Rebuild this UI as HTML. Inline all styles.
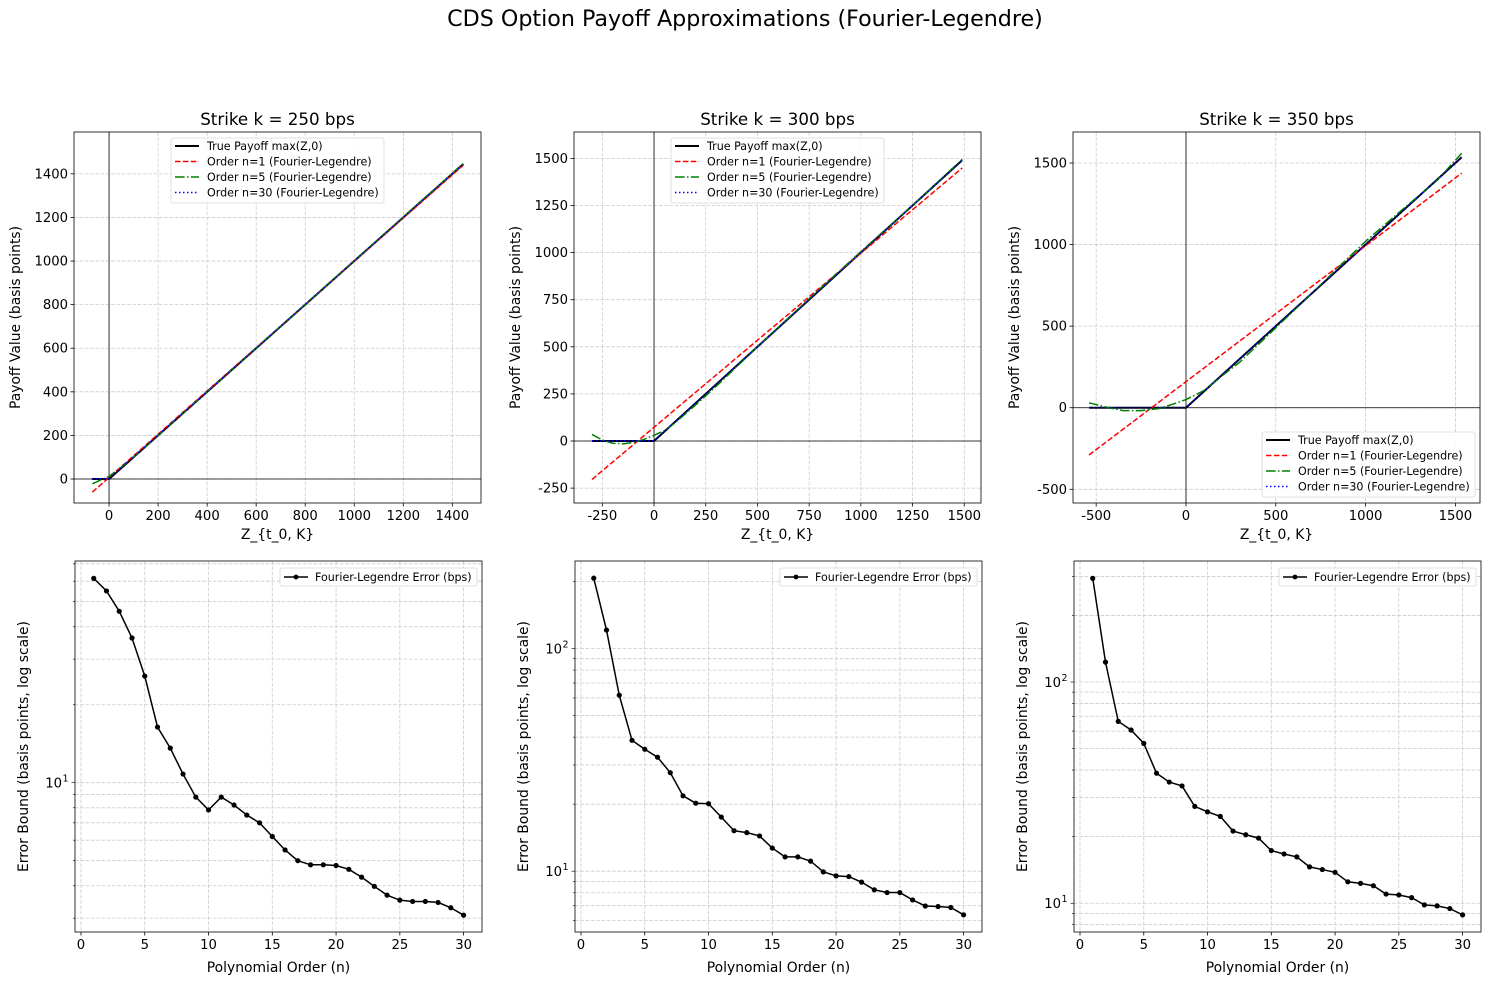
<!DOCTYPE html>
<html><head><meta charset="utf-8"><style>
body{margin:0;background:#fff;}
svg text{font-family:"DejaVu Sans","Liberation Sans",sans-serif;}
</style></head><body>
<svg id="fig" width="1490" height="985" xmlns="http://www.w3.org/2000/svg">
<text x="745" y="26" font-size="22.2" text-anchor="middle">CDS Option Payoff Approximations (Fourier-Legendre)</text>
</svg>
<script>
// ---------- data ----------
const strikes = ["Strike k = 250 bps","Strike k = 300 bps","Strike k = 350 bps"];
// payoff panels: [z, value] samples
const trueP1 = [[-70,0],[0,0],[1445,1445]];
const redP1 = [[-68,-60],[1445,1440]];
const greenP1 = [[-68,-22],[-35,-5],[0,12],[50,55],[100,100],[1445,1448]];
const blueP1 = [[-70,0],[0,2],[1445,1445]];
const trueP2 = [[-300,0],[0,0],[1490,1490]];
const redP2 = [[-300,-204],[1490,1449]];
const greenP2 = [[-300,35],[-250,5],[-200,-12],[-150,-15],[-100,-8],[-50,8],[0,30],[50,55],[100,95],[200,190],[300,290],[500,500],[750,755],[1000,1005],[1250,1250],[1490,1495]];
const blueP2 = [[-300,0],[0,1],[1490,1490]];
const trueP3 = [[-540,0],[0,0],[1535,1535]];
const redP3 = [[-540,-290],[1535,1438]];
const greenP3 = [[-540,30],[-450,5],[-350,-18],[-250,-18],[-150,-5],[-50,30],[0,50],[100,105],[200,195],[300,280],[400,385],[500,490],[700,700],[900,915],[1000,1020],[1200,1210],[1400,1395],[1535,1560]];
const blueP3 = [[-540,0],[0,1],[1535,1535]];
// error panels
const orders = [1,2,3,4,5,6,7,8,9,10,11,12,13,14,15,16,17,18,19,20,21,22,23,24,25,26,27,28,29,30];
const err250 = [61.5,55,45.9,36.2,25.8,16.4,13.6,10.8,8.8,7.85,8.8,8.2,7.5,7.0,6.2,5.5,5.0,4.82,4.82,4.79,4.63,4.32,3.98,3.68,3.52,3.48,3.48,3.45,3.29,3.08];
const err300 = [207,121,61.7,38.7,35.3,32.5,27.7,21.8,20.2,20.1,17.5,15.2,14.9,14.4,12.7,11.6,11.6,11.1,9.93,9.53,9.46,8.93,8.25,8.02,8.02,7.43,6.98,6.94,6.87,6.37];
const err350 = [294,123,66.4,60.7,52.8,38.7,35.3,33.9,27.4,25.9,24.7,21.2,20.4,19.7,17.3,16.7,16.2,14.6,14.2,13.8,12.5,12.3,12.0,11.0,10.9,10.6,9.83,9.73,9.46,8.86];
const xTicks1=[0,200,400,600,800,1000,1200,1400], yTicks1=[0,200,400,600,800,1000,1200,1400];
const xTicks2=[-250,0,250,500,750,1000,1250,1500], yTicks2=[-250,0,250,500,750,1000,1250,1500];
const xTicks3=[-500,0,500,1000,1500], yTicks3=[-500,0,500,1000,1500];
const nTicks=[0,5,10,15,20,25,30];

// ---------- helpers ----------
const svg=document.getElementById('fig');
const NS='http://www.w3.org/2000/svg';
function el(tag,attrs,parent){const e=document.createElementNS(NS,tag);for(const k in attrs)e.setAttribute(k,attrs[k]);(parent||svg).appendChild(e);return e;}
function txt(s,attrs,parent){const e=el('text',attrs,parent);e.textContent=s;return e;}

const lefts=[74,574,1073], W=407;
const topRow={t:132,b:503}, botRow={t:561,b:932};
const payoff=[
 {xr:[-143,1517],yr:[-110,1592],xt:xTicks1,yt:yTicks1,tr:trueP1,rd:redP1,gr:greenP1,bl:blueP1,leg:[171,138]},
 {xr:[-387,1581],yr:[-329,1640],xt:xTicks2,yt:yTicks2,tr:trueP2,rd:redP2,gr:greenP2,bl:blueP2,leg:[671,138]},
 {xr:[-629,1637],yr:[-584,1690],xt:xTicks3,yt:yTicks3,tr:trueP3,rd:redP3,gr:greenP3,bl:blueP3,leg:[1262,432]}];
const errs=[{e:err250,lr:[0.4236,1.856]},{e:err300,lr:[0.727,2.393]},{e:err350,lr:[0.870,2.547]}];
const legendLabels=["True Payoff max(Z,0)","Order n=1 (Fourier-Legendre)","Order n=5 (Fourier-Legendre)","Order n=30 (Fourier-Legendre)"];
const styles=[{c:'#000',w:2,d:''},{c:'red',w:1.5,d:'5.5,2.4'},{c:'green',w:1.5,d:'9.6,2.4,1.5,2.4'},{c:'blue',w:1.5,d:'1.5,2.5'}];
const TF=13.2, LF=13.9, LEG=11.1;

payoff.forEach((p,i)=>{
  const L=lefts[i],R=L+W,T=topRow.t,B=topRow.b;
  const g=el('g',{});
  
  
  const X=v=>L+(v-p.xr[0])/(p.xr[1]-p.xr[0])*W;
  const Y=v=>B-(v-p.yr[0])/(p.yr[1]-p.yr[0])*(B-T);
  p.xt.forEach(v=>{const x=X(v);
    el('line',{x1:x,x2:x,y1:T,y2:B,stroke:'#cccccc','stroke-width':0.8,'stroke-dasharray':'3.7,1.6'},g);
    el('line',{x1:x,x2:x,y1:B,y2:B+3.5,stroke:'#000','stroke-width':0.8},g);
    const t=txt(String(v),{x:x,y:B+17,'font-size':TF,'text-anchor':'middle'},g);
    
    });
  p.yt.forEach(v=>{const y=Y(v);
    el('line',{x1:L,x2:R,y1:y,y2:y,stroke:'#cccccc','stroke-width':0.8,'stroke-dasharray':'3.7,1.6'},g);
    el('line',{x1:L-3.5,x2:L,y1:y,y2:y,stroke:'#000','stroke-width':0.8},g);
    const t=txt(String(v),{x:L-6,y:y+4.5,'font-size':TF,'text-anchor':'end'},g);
    
    });
  el('line',{x1:L,x2:R,y1:Y(0),y2:Y(0),stroke:'#000','stroke-width':0.8},g);
  el('line',{x1:X(0),x2:X(0),y1:T,y2:B,stroke:'#000','stroke-width':0.8},g);
  [p.tr,p.rd,p.gr,p.bl].forEach((s,k)=>{
    const pl=el('polyline',{points:s.map(q=>X(q[0])+','+Y(q[1])).join(' '),fill:'none',stroke:styles[k].c,'stroke-width':styles[k].w,'stroke-dasharray':styles[k].d},g);
    
    
  });
  el('rect',{x:L,y:T,width:W,height:B-T,fill:'none',stroke:'#000','stroke-width':0.8},g);
  const tt=txt(strikes[i],{x:L+W/2,y:T-7,'font-size':16.7,'text-anchor':'middle'},g);
  
  
  const xl=txt('Z_{t_0, K}',{x:L+W/2,y:B+36,'font-size':LF,'text-anchor':'middle'},g);
  
  
  const yl=txt('Payoff Value (basis points)',{x:0,y:0,'font-size':LF,'text-anchor':'middle',transform:`translate(${L-54},${(T+B)/2}) rotate(-90)`},g);
  
  
  const lg=el('g',{},g);
  
  
  const lx=p.leg[0],ly=p.leg[1];
  el('rect',{x:lx,y:ly,width:213,height:65,fill:'#fff','fill-opacity':0.85,stroke:'#d8d8d8','stroke-width':0.8,rx:2},lg);
  legendLabels.forEach((s,k)=>{const yy=ly+8+k*15.5;
    el('line',{x1:lx+4,x2:lx+28,y1:yy,y2:yy,stroke:styles[k].c,'stroke-width':styles[k].w,'stroke-dasharray':styles[k].d},lg);
    const t=txt(s,{x:lx+36,y:yy+4,'font-size':LEG},lg);
    
    });
});

errs.forEach((p,i)=>{
  const L=lefts[i]+1,R=L+W,T=botRow.t,B=botRow.b;
  const g=el('g',{});
  
  
  const X=v=>L+6+v*(382.6/30);
  const Y=v=>B-(Math.log10(v)-p.lr[0])/(p.lr[1]-p.lr[0])*(B-T);
  nTicks.forEach(v=>{const x=X(v);
    el('line',{x1:x,x2:x,y1:T,y2:B,stroke:'#cccccc','stroke-width':0.8,'stroke-dasharray':'3.7,1.6'},g);
    el('line',{x1:x,x2:x,y1:B,y2:B+3.5,stroke:'#000','stroke-width':0.8},g);
    const t=txt(String(v),{x:x,y:B+17,'font-size':TF,'text-anchor':'middle'},g);
    
    });
  for(let d=0;d<=3;d++){for(let m=1;m<=9;m++){const v=m*Math.pow(10,d);const lv=Math.log10(v);
    if(lv<p.lr[0]||lv>p.lr[1])continue;const y=Y(v);
    el('line',{x1:L,x2:R,y1:y,y2:y,stroke:'#cccccc','stroke-width':0.8,'stroke-dasharray':'3.7,1.6'},g);
    el('line',{x1:L-(m==1?3.5:2),x2:L,y1:y,y2:y,stroke:'#000','stroke-width':0.6},g);
    if(m==1){const t=txt('10',{x:L-13,y:y+5,'font-size':TF,'text-anchor':'end'},g);
      
      
      txt(String(d),{x:L-12.5,y:y-1,'font-size':9.5,'text-anchor':'start'},g);}}}
  const s=p.e;
  const pl=el('polyline',{points:orders.map((n,k)=>X(n)+','+Y(s[k])).join(' '),fill:'none',stroke:'#000','stroke-width':1.5},g);
  
  
  orders.forEach((n,k)=>{const c=el('circle',{cx:X(n),cy:Y(s[k]),r:2.6,fill:'#000'},g);
    
    });
  el('rect',{x:L,y:T,width:W,height:B-T,fill:'none',stroke:'#000','stroke-width':0.8},g);
  const xl=txt('Polynomial Order (n)',{x:L+W/2,y:B+40,'font-size':LF,'text-anchor':'middle'},g);
  
  
  const yl=txt('Error Bound (basis points, log scale)',{x:0,y:0,'font-size':LF,'text-anchor':'middle',transform:`translate(${L-47},${(T+B)/2}) rotate(-90)`},g);
  
  
  const lg=el('g',{},g);
  
  
  const lx=R-202,ly=T+7;
  el('rect',{x:lx,y:ly,width:197,height:18,fill:'#fff',stroke:'#d8d8d8','stroke-width':0.8,rx:2},lg);
  el('line',{x1:lx+4,x2:lx+28,y1:ly+9,y2:ly+9,stroke:'#000','stroke-width':1.5},lg);
  el('circle',{cx:lx+16,cy:ly+9,r:2.4,fill:'#000'},lg);
  const t=txt('Fourier-Legendre Error (bps)',{x:lx+35,y:ly+13,'font-size':LEG},lg);
  
  
});
</script>
</body></html>
